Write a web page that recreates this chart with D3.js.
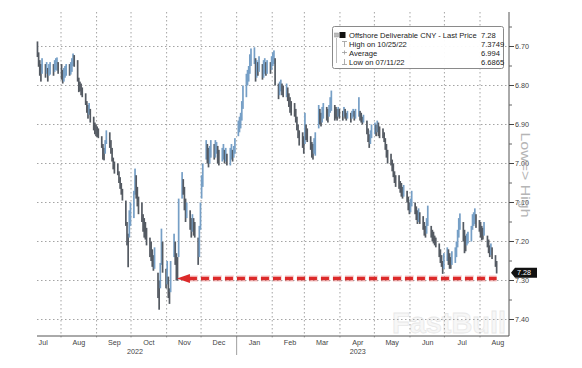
<!DOCTYPE html>
<html>
<head>
<meta charset="utf-8">
<script src="https://cdn.jsdelivr.net/npm/d3@7"></script>
<style>
html,body{margin:0;padding:0;background:#fff;}
svg{display:block;}
text{font-family:"Liberation Sans",Arial,sans-serif;}
</style>
</head>
<body>
<svg id="chart" width="582" height="368"></svg>
<script>
// ---- data ----
const startDate = "2022-07-11";
const lows = [
 6.687,6.715,6.735,6.745,6.730, 6.745,6.740,6.755,6.745,6.740, 6.745,6.735,6.730,6.728,6.740,
 6.745,6.760,6.755,6.750,6.745, 6.745,6.740,6.730,6.718,6.722, 6.735,6.780,6.790,6.795,6.805,
 6.820,6.840,6.850,6.845,6.860, 6.880,6.895,6.900,6.905,6.910, 6.930,6.950,6.960,6.940,6.915,
 6.920,6.940,6.960,6.985,6.995, 7.000,7.020,7.035,7.050,7.065, 7.095,7.150,7.180,7.120,7.100,
 7.070,7.013,7.030,7.060,7.085, 7.100,7.130,7.140,7.150,7.165, 7.190,7.200,7.220,7.235,7.215,
 7.280,7.300,7.255,7.167,7.200, 7.270,7.250,7.290,7.320,7.250, 7.180,7.200,7.230,7.240,7.090,
 7.022,7.040,7.060,7.090,7.100, 7.120,7.140,7.130,7.140,7.150, 7.190,7.160,7.100,7.030,7.000,
 6.940,6.950,6.960,6.955,6.940, 6.950,6.940,6.945,6.955,6.965, 6.960,6.950,6.965,6.960,6.975,
 6.960,6.950,6.965,6.955,6.935, 6.890,6.880,6.870,6.840,6.800, 6.770,6.760,6.750,6.720,6.705,
 6.702,6.730,6.735,6.740,6.725, 6.745,6.735,6.730,6.740,6.735, 6.740,6.725,6.715,6.710,6.730,
 6.795,6.790,6.785,6.795,6.800, 6.795,6.805,6.820,6.830,6.840, 6.845,6.860,6.880,6.900,6.915,
 6.920,6.930,6.870,6.900,6.910, 6.930,6.945,6.950,6.935,6.920, 6.850,6.860,6.870,6.855,6.845,
 6.855,6.860,6.850,6.830,6.813, 6.850,6.855,6.860,6.855,6.860, 6.865,6.855,6.860,6.870,6.865,
 6.870,6.865,6.860,6.865,6.860, 6.830,6.865,6.870,6.880,6.875, 6.890,6.910,6.925,6.915,6.900,
 6.895,6.900,6.890,6.895,6.905, 6.910,6.920,6.935,6.950,6.965, 6.975,6.990,7.000,7.020,7.030,
 7.030,7.045,7.050,7.060,7.055, 7.070,7.085,7.100,7.090,7.070, 7.100,7.110,7.120,7.115,7.125,
 7.135,7.150,7.160,7.140,7.108, 7.160,7.170,7.175,7.185,7.190, 7.205,7.220,7.235,7.250,7.230,
 7.215,7.220,7.230,7.240,7.225, 7.215,7.200,7.170,7.140,7.128, 7.150,7.170,7.185,7.180,7.175,
 7.160,7.130,7.125,7.115,7.130, 7.145,7.150,7.160,7.165,7.150, 7.185,7.195,7.210,7.205,7.215,
 7.235,7.250
];
const highs = [
 6.727,6.752,6.775,6.790,6.770, 6.780,6.770,6.790,6.775,6.772, 6.775,6.765,6.760,6.762,6.770,
 6.785,6.795,6.790,6.780,6.775, 6.775,6.772,6.765,6.750,6.752, 6.790,6.817,6.815,6.825,6.830,
 6.850,6.870,6.885,6.875,6.895, 6.915,6.925,6.930,6.932,6.935, 6.960,6.990,6.992,6.975,6.950,
 6.960,6.975,6.995,7.015,7.026, 7.030,7.050,7.065,7.080,7.095, 7.160,7.210,7.266,7.190,7.160,
 7.140,7.080,7.090,7.110,7.130, 7.150,7.175,7.190,7.195,7.210, 7.240,7.250,7.265,7.275,7.270,
 7.345,7.3749,7.320,7.260,7.280, 7.320,7.310,7.345,7.360,7.330, 7.240,7.260,7.300,7.300,7.240,
 7.090,7.080,7.120,7.150,7.140, 7.170,7.190,7.175,7.185,7.190, 7.260,7.240,7.170,7.090,7.060,
 6.990,7.000,7.010,7.000,6.985, 6.990,6.985,6.975,7.000,7.005, 6.995,6.990,7.000,6.995,7.005,
 7.005,6.990,6.995,6.985,6.975, 6.930,6.920,6.910,6.890,6.860, 6.830,6.800,6.790,6.770,6.750,
 6.745,6.790,6.780,6.775,6.765, 6.785,6.780,6.770,6.775,6.770, 6.770,6.760,6.750,6.745,6.800,
 6.835,6.825,6.815,6.825,6.830, 6.830,6.840,6.855,6.870,6.877, 6.880,6.895,6.915,6.935,6.954,
 6.960,6.975,6.950,6.940,6.945, 6.965,6.985,6.990,6.975,6.980, 6.910,6.900,6.905,6.895,6.885,
 6.890,6.895,6.880,6.870,6.865, 6.890,6.885,6.890,6.880,6.885, 6.890,6.880,6.885,6.890,6.885,
 6.895,6.885,6.880,6.890,6.885, 6.880,6.890,6.895,6.900,6.895, 6.925,6.945,6.960,6.950,6.935,
 6.925,6.930,6.920,6.930,6.935, 6.935,6.945,6.965,6.985,7.000, 7.005,7.020,7.035,7.050,7.060,
 7.065,7.075,7.085,7.090,7.085, 7.100,7.120,7.130,7.125,7.110, 7.130,7.145,7.155,7.150,7.155,
 7.170,7.185,7.190,7.180,7.160, 7.190,7.200,7.205,7.210,7.215, 7.240,7.255,7.265,7.283,7.270,
 7.250,7.260,7.270,7.270,7.260, 7.255,7.240,7.215,7.190,7.170, 7.200,7.230,7.225,7.210,7.205,
 7.200,7.170,7.160,7.155,7.165, 7.175,7.190,7.197,7.195,7.185, 7.215,7.230,7.240,7.235,7.245,
 7.265,7.282
];
const yTicks = [6.70, 6.80, 6.90, 7.00, 7.10, 7.20, 7.30, 7.40];
const yTickLabels = ["6.70","6.80","6.90","7.00","7.10","7.20","7.30","7.40"];
const monthLabels = ["Jul","Aug","Sep","Oct","Nov","Dec","Jan","Feb","Mar","Apr","May","Jun","Jul","Aug"];
const yearLabels = ["2022","2023"];
const legendNames = ["Offshore Deliverable CNY - Last Price","High on 10/25/22","Average","Low on 07/11/22"];
const legendValues = ["7.28","7.3749","6.994","6.6865"];
const lastPrice = 7.28;
const arrowLevel = 7.295;
const arrowStart = "2022-11-10";
const arrowEnd = "2023-08-15";

// ---- layout ----
const svg = d3.select("#chart");
const L = 37, R = 509, T = 12, B = 336;
const x = d3.scaleUtc().domain([new Date(Date.UTC(2022,7,1)), new Date(Date.UTC(2023,7,1))]).range([61,480]);
const y = d3.scaleLinear().domain([6.70, 7.40]).range([46.5, 319.5]);

// dates: weekdays from start
const allDays = d3.utcDay.range(new Date(startDate+"T00:00:00Z"), new Date("2023-09-01T00:00:00Z"))
  .filter(d => d.getUTCDay() !== 0 && d.getUTCDay() !== 6);
const bars = lows.map((lo,i) => ({date: allDays[i], lo: lo, hi: highs[i]}));

// watermark (behind everything)
svg.append("text").attr("x",392).attr("y",333).attr("font-size","30px").attr("font-weight","bold")
  .attr("textLength",114).attr("lengthAdjust","spacingAndGlyphs")
  .attr("fill","#f7f7f7").attr("stroke","#e8e8e8").attr("stroke-width",0.8)
  .text("FastBull");

const grid = svg.append("g");
grid.selectAll("line.h").data(yTicks).enter().append("line")
  .attr("x1", L).attr("x2", R).attr("y1", d=>y(d)).attr("y2", d=>y(d))
  .attr("stroke","#9a9a9a").attr("stroke-width",0.9).attr("stroke-dasharray","1.5,2.5");
const monthStarts = d3.utcMonth.range(new Date(Date.UTC(2022,7,1)), new Date(Date.UTC(2023,8,1)));
grid.selectAll("line.v").data(monthStarts).enter().append("line")
  .attr("x1", d=>x(d)).attr("x2", d=>x(d)).attr("y1", T).attr("y2", B+4)
  .attr("stroke","#9a9a9a").attr("stroke-width",0.9).attr("stroke-dasharray","1.5,2.5");

// bars
svg.append("g").selectAll("rect").data(bars).enter().append("rect")
  .attr("x", d => x(d3.utcHour.offset(d.date,12)) - 0.85)
  .attr("width", 1.7)
  .attr("y", d => y(d.lo))
  .attr("height", d => Math.max(1, y(d.hi) - y(d.lo)))
  .attr("fill", (d,i) => {
    if (i === 0) return "#545a62";
    const p = bars[i-1];
    return (d.lo + d.hi) < (p.lo + p.hi) ? "#769fc6" : "#545a62";
  });

// axes lines
svg.append("line").attr("x1",L).attr("x2",R).attr("y1",B).attr("y2",B).attr("stroke","#555").attr("stroke-width",1);
svg.append("line").attr("x1",R).attr("x2",R).attr("y1",T).attr("y2",B).attr("stroke","#555").attr("stroke-width",1);

// y ticks and labels
const yAx = svg.append("g");
yAx.selectAll("line.maj").data(yTicks).enter().append("line")
  .attr("x1",R).attr("x2",R+5).attr("y1",d=>y(d)).attr("y2",d=>y(d)).attr("stroke","#444");
const minor = d3.range(6.65, 7.40, 0.1);
yAx.selectAll("line.min").data(minor).enter().append("line")
  .attr("x1",R).attr("x2",R+3).attr("y1",d=>y(d)).attr("y2",d=>y(d)).attr("stroke","#666");
yAx.selectAll("text").data(yTicks).enter().append("text")
  .attr("x", R+6).attr("y", d=>y(d)+2.6)
  .attr("font-size","7.2px").attr("fill","#444")
  .text((d,i)=>yTickLabels[i]);

// x labels
const labelMonths = d3.utcMonth.range(new Date(Date.UTC(2022,6,1)), new Date(Date.UTC(2023,8,1)));
svg.append("g").selectAll("text").data(labelMonths).enter().append("text")
  .attr("x", d => x(d3.utcHour.offset(d, 15.5*24)))
  .attr("y", 345)
  .attr("text-anchor","middle").attr("font-size","7.2px").attr("fill","#444")
  .text((d,i)=>monthLabels[i]);
const yearPos = [new Date(Date.UTC(2022,9,1)), new Date(Date.UTC(2023,3,13))];
svg.append("g").selectAll("text").data(yearLabels).enter().append("text")
  .attr("x",(d,i)=>x(yearPos[i])+4).attr("y",353.5)
  .attr("text-anchor","middle").attr("font-size","7.2px").attr("fill","#444")
  .text(d=>d);
svg.append("line").attr("x1",x(new Date(Date.UTC(2023,0,1)))).attr("x2",x(new Date(Date.UTC(2023,0,1))))
  .attr("y1",B).attr("y2",355).attr("stroke","#888").attr("stroke-width",0.8);

// Low=> High side label
svg.append("text").attr("transform","translate(521,175) rotate(90)")
  .attr("text-anchor","middle").attr("font-size","13px").attr("fill","#b5b5b5")
  .attr("textLength",85).attr("lengthAdjust","spacingAndGlyphs")
  .text("Low=> High");

// last price tag
const yl = y(lastPrice);
svg.append("path").attr("d",`M${R+2},${yl} L${R+6},${yl-5} L${R+28},${yl-5} L${R+28},${yl+5} L${R+6},${yl+5} Z`).attr("fill","#111");
svg.append("text").attr("x",R+8).attr("y",yl+2.6).attr("font-size","7.2px").attr("fill","#fff").text(lastPrice.toFixed(2));

// red dashed arrow
const ya = y(arrowLevel);
const xs = x(new Date(arrowStart+"T00:00:00Z")), xe = x(new Date(arrowEnd+"T12:00:00Z"));
svg.append("line").attr("x1",xs+12).attr("x2",xe).attr("y1",ya).attr("y2",ya)
  .attr("stroke","rgba(235,90,90,0.25)").attr("stroke-width",6.5).attr("stroke-dasharray","9,3");
svg.append("line").attr("x1",xs+12).attr("x2",xe).attr("y1",ya).attr("y2",ya)
  .attr("stroke","#dc2a2a").attr("stroke-width",3.5).attr("stroke-dasharray","8,4");
svg.append("path").attr("d",`M${xs},${ya} L${xs+13},${ya-4.5} L${xs+13},${ya+4.5} Z`).attr("fill","#dc2a2a");

// legend
const lg = svg.append("g");
lg.append("rect").attr("x",332.5).attr("y",26.5).attr("width",171).attr("height",42).attr("rx",2)
  .attr("fill","rgba(255,255,255,0.95)").attr("stroke","#8a8a8a").attr("stroke-width",1);
lg.append("rect").attr("x",334.5).attr("y",33).attr("width",4).attr("height",4).attr("fill","#bbb").attr("stroke","#999").attr("stroke-width",0.5);
lg.append("rect").attr("x",339.5).attr("y",32).attr("width",6).attr("height",6).attr("fill","#111");
lg.append("line").attr("x1",336.5).attr("x2",336.5).attr("y1",38).attr("y2",63).attr("stroke","#aaa").attr("stroke-width",0.8);
lg.append("path").attr("d","M342,41.5 L347,41.5 M344.5,41.5 L344.5,47").attr("stroke","#999").attr("stroke-width",0.8).attr("fill","none");
lg.append("path").attr("d","M342,52.5 L347,52.5 M344.5,50.5 L344.5,54.5").attr("stroke","#999").attr("stroke-width",0.8).attr("fill","none");
lg.append("path").attr("d","M344.5,59 L344.5,64.5 M342,64.5 L347,64.5").attr("stroke","#999").attr("stroke-width",0.8).attr("fill","none");
lg.selectAll("text.n").data(legendNames).enter().append("text")
  .attr("x",349).attr("y",(d,i)=>38+i*9).attr("font-size","7.6px").attr("fill","#222").text(d=>d);
lg.selectAll("text.v").data(legendValues).enter().append("text")
  .attr("x",481).attr("y",(d,i)=>38+i*9).attr("font-size","7.6px").attr("fill","#222").text(d=>d);
</script>
</body>
</html>
